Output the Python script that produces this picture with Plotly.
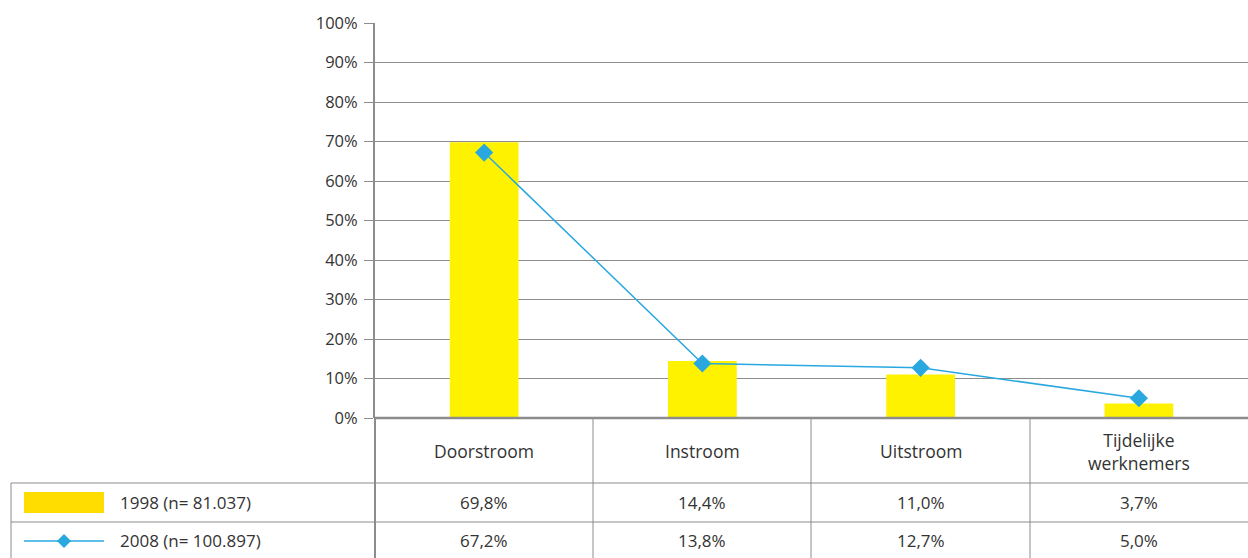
import plotly.graph_objects as go

categories = ["Doorstroom", "Instroom", "Uitstroom", "Tijdelijke<br>werknemers"]
values_1998 = [69.8, 14.4, 11.0, 3.7]
values_2008 = [67.2, 13.8, 12.7, 5.0]
label_1998 = "1998 (n= 81.037)"
label_2008 = "2008 (n= 100.897)"
y_ticks = [0, 10, 20, 30, 40, 50, 60, 70, 80, 90, 100]

W, H = 1248, 558
BAR_COLOR = "#FFF200"
LEG_BAR_COLOR = "#FFDD00"
LINE_COLOR = "#29A8E0"
GRID = "#8C8C8C"
TXT = "#333333"
FONT = "Open Sans"

def px(x):
    return x / W

def py(y):
    return 1 - y / H

x_idx = list(range(len(categories)))

fig = go.Figure()
fig.add_trace(go.Bar(
    x=x_idx, y=values_1998, width=0.315, marker=dict(color=BAR_COLOR, line=dict(width=0)),
    name=label_1998, showlegend=False,
))
fig.add_trace(go.Scatter(
    x=x_idx, y=values_2008, mode="lines+markers", name=label_2008, showlegend=False,
    line=dict(color=LINE_COLOR, width=1.5),
    marker=dict(symbol="diamond", size=14, color=LINE_COLOR),
))

fig.update_layout(
    width=W, height=H, margin=dict(l=0, r=0, t=0, b=0, pad=0, autoexpand=False),
    paper_bgcolor="white", plot_bgcolor="white", showlegend=False,
    font=dict(family=FONT, size=17, color=TXT),
    xaxis=dict(domain=[px(375), 1], range=[-0.5, 3.5], showticklabels=False, automargin=False,
               showgrid=False, zeroline=False, showline=False, ticks=""),
    yaxis=dict(domain=[py(418), py(23)], range=[0, 100], tickvals=y_ticks, automargin=False,
               ticktext=[f"{v}%" for v in y_ticks], ticks="outside", ticklen=9,
               tickcolor=GRID, tickwidth=1, showgrid=True, gridcolor=GRID, gridwidth=1,
               showline=True, linecolor=GRID, linewidth=2, zeroline=False,
               ticklabelstandoff=3, tickfont=dict(size=16.5, color=TXT)),
)

shapes = []
def hline(x0, x1, y, w=1):
    shapes.append(dict(type="line", xref="paper", yref="paper", x0=px(x0), x1=px(x1),
                       y0=py(y), y1=py(y), line=dict(color=GRID, width=w)))
def vline(x, y0, y1, w=1):
    shapes.append(dict(type="line", xref="paper", yref="paper", x0=px(x), x1=px(x),
                       y0=py(y0), y1=py(y1), line=dict(color=GRID, width=w)))

hline(375, 1248, 418, 2.5)
hline(11, 1248, 483)
hline(11, 1248, 522)
vline(11, 483, 558)
vline(375, 418, 558, 2)
for xv in [593, 811, 1030]:
    vline(xv, 418, 558)

# legend keys inside the table
shapes.append(dict(type="rect", xref="paper", yref="paper", x0=px(24), x1=px(104),
                   y0=py(492), y1=py(513), fillcolor=LEG_BAR_COLOR, line=dict(width=0)))
shapes.append(dict(type="line", xref="paper", yref="paper", x0=px(24), x1=px(104),
                   y0=py(541), y1=py(541), line=dict(color=LINE_COLOR, width=1.5)))
cx, cy, r = 64, 541, 7
shapes.append(dict(type="path", xref="paper", yref="paper",
                   path=f"M {px(cx)},{py(cy-r)} L {px(cx+r)},{py(cy)} L {px(cx)},{py(cy+r)} L {px(cx-r)},{py(cy)} Z",
                   fillcolor=LINE_COLOR, line=dict(width=0)))

annotations = []
annotations.append(dict(x=px(118), y=py(502), xref="paper", yref="paper", text=label_1998,
                        showarrow=False, xanchor="left", yanchor="middle"))
annotations.append(dict(x=px(118), y=py(540), xref="paper", yref="paper", text=label_2008,
                        showarrow=False, xanchor="left", yanchor="middle"))
for i, cat in enumerate(categories):
    annotations.append(dict(x=i, y=py(451), xref="x", yref="paper", text=cat, showarrow=False,
                            xanchor="center", yanchor="middle", font=dict(size=17.5)))
    annotations.append(dict(x=i, y=py(502), xref="x", yref="paper",
                            text=f"{values_1998[i]:.1f}%".replace(".", ","), showarrow=False,
                            xanchor="center", yanchor="middle"))
    annotations.append(dict(x=i, y=py(540), xref="x", yref="paper",
                            text=f"{values_2008[i]:.1f}%".replace(".", ","), showarrow=False,
                            xanchor="center", yanchor="middle"))

fig.update_layout(shapes=shapes, annotations=annotations)
fig.write_html("out.html", config={"displayModeBar": False})

with open("out.html", "r", encoding="utf-8") as f:
    html = f.read()
html = html.replace("<head>", "<head><style>html,body{margin:0;padding:0;overflow:hidden;}</style>", 1)
with open("out.html", "w", encoding="utf-8") as f:
    f.write(html)
